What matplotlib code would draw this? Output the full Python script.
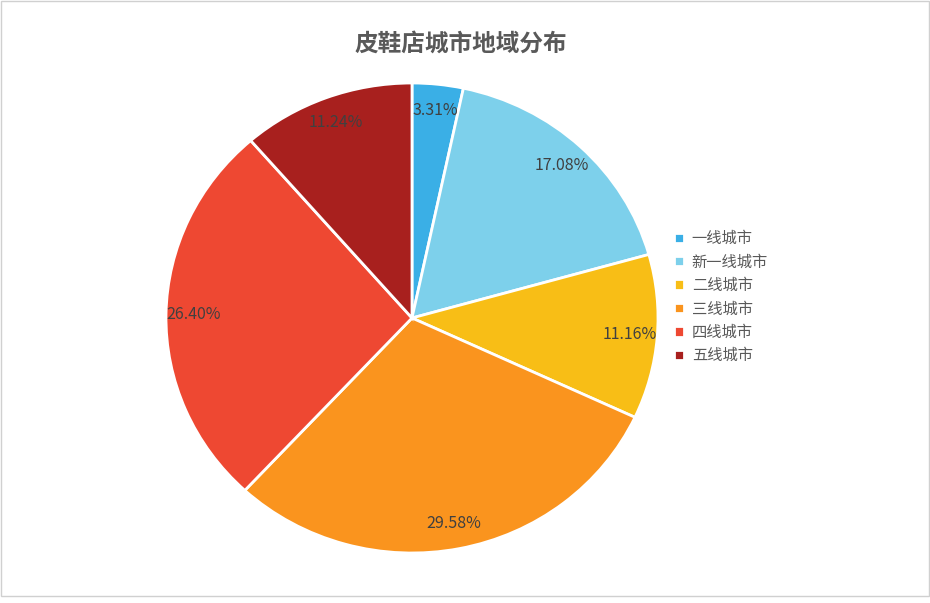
import matplotlib
matplotlib.use("Agg")
import matplotlib.pyplot as plt
from matplotlib.patches import Rectangle

plt.rcParams['font.family'] = ['Noto Sans CJK SC', 'DejaVu Sans']

categories = ["一线城市", "新一线城市", "二线城市", "三线城市", "四线城市", "五线城市"]
shares = [3.31, 17.08, 11.16, 29.58, 26.40, 11.24]
colors = ["#3aafe6", "#7dd0eb", "#f8be16", "#fa941e", "#ee4832", "#a8201e"]
title = "皮鞋店城市地域分布"

W, H = 930, 603
fig = plt.figure(figsize=(W / 100, H / 100), dpi=100)
fig.patch.set_facecolor("white")
fig.patches.append(Rectangle((0.001, 0.012), 0.998, 0.986, transform=fig.transFigure,
                             fill=False, edgecolor="#d0d0d0", linewidth=1))

# pie is a little wider than tall in the reference
ax = fig.add_axes([166 / W, (H - 553) / H, 492 / W, 470 / H])
wedges, texts, autotexts = ax.pie(
    shares, colors=colors, startangle=90, counterclock=False,
    autopct="%1.2f%%", pctdistance=0.89,
    wedgeprops=dict(edgecolor="white", linewidth=2),
    textprops=dict(color="#404040", fontsize=11.5),
)
# show the shares as printed on the chart, not renormalised
for t, v in zip(autotexts, shares):
    t.set_text(f"{v:.2f}%")
ax.set_aspect("auto")
ax.set_xlim(-1, 1)
ax.set_ylim(-1, 1)

fig.text(461 / W, 1 - 44 / H, title, ha="center", va="center",
         fontsize=17, fontweight="bold", color="#595959")

leg = fig.legend(wedges, categories, loc="upper left", bbox_to_anchor=(668 / W, 1 - 224 / H),
                 frameon=False, fontsize=11, handlelength=0.65, handleheight=0.65,
                 handletextpad=0.5, labelspacing=0.42, borderaxespad=0)
for t in leg.get_texts():
    t.set_color("#595959")

fig.savefig("out.png", dpi=100)
